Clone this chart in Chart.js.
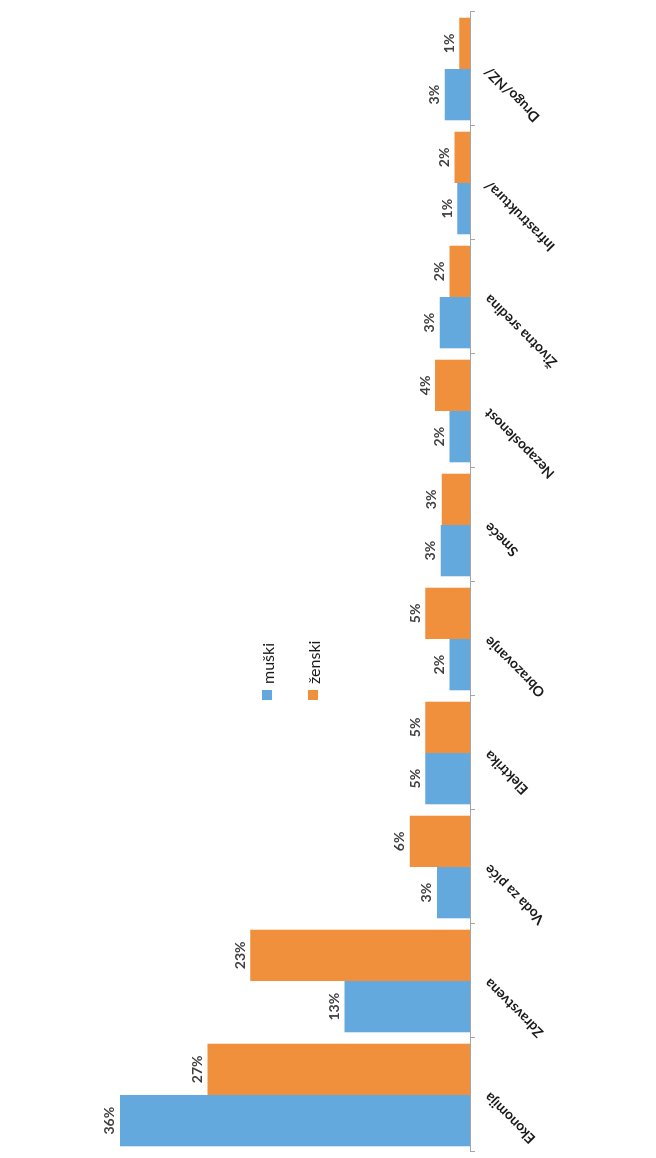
<!DOCTYPE html>
<html>
<head>
<meta charset="utf-8">
<script src="https://cdn.jsdelivr.net/npm/chart.js@4/dist/chart.umd.min.js"></script>
<style>
    html, body { margin: 0; padding: 0; background: #fff; overflow: hidden; }
    /* the original chart is a column chart turned 90° to the left */
    #turned {
        position: absolute; left: 0; top: 1158px;
        width: 1158px; height: 656px;
        transform-origin: 0 0; transform: rotate(-90deg);
    }
    #legend { position: absolute; left: 458px; top: 256px; font: 16px Lato, sans-serif; color: #1a1a1a; }
    #legend div { display: flex; align-items: center; height: 22px; margin-bottom: 24px; }
    #legend span.box { width: 10px; height: 10px; margin-right: 6px; }
</style>
</head>
<body>
<div id="turned">
    <canvas id="chart" width="1158" height="656"></canvas>
    <div id="legend"></div>
</div>
<script>
'use strict';

const categories = ['Ekonomija', 'Zdravstvena', 'Voda za piće', 'Elektrika', 'Obrazovanje',
    'Smeće', 'Nezaposlenost', 'Životna sredina', 'Infrastruktura/', 'Drugo/NZ/'];
const muski  = [36, 12.9, 3.4, 4.6, 2.1, 3.0, 2.1, 3.1, 1.3, 2.6];
const zenski = [27, 22.6, 6.2, 4.6, 4.6, 2.9, 3.6, 2.1, 1.6, 1.1];
const seriesNames = ['muški', 'ženski'];
const seriesColors = ['#63a9dd', '#f0903d'];

// подписи над столбцами
const valueLabels = {
    id: 'valueLabels',
    afterDatasetsDraw(chart) {
        const ctx = chart.ctx;
        ctx.save();
        ctx.font = 'bold 14px Lato, sans-serif';
        ctx.fillStyle = '#404040';
        ctx.textAlign = 'center';
        ctx.textBaseline = 'bottom';
        chart.data.datasets.forEach((ds, i) => {
            chart.getDatasetMeta(i).data.forEach((bar, j) => {
                ctx.fillText(Math.round(ds.data[j]) + '%', bar.x, bar.y - 3);
            });
        });
        ctx.restore();
    }
};

new Chart(document.getElementById('chart').getContext('2d'), {
    type: 'bar',
    data: {
        labels: categories,
        datasets: [
            { label: seriesNames[0], data: muski, backgroundColor: seriesColors[0] },
            { label: seriesNames[1], data: zenski, backgroundColor: seriesColors[1] }
        ]
    },
    options: {
        responsive: false,
        animation: false,
        categoryPercentage: 0.9,
        barPercentage: 1,
        layout: { padding: { left: 6, right: 12, top: 81, bottom: 0 } },
        plugins: { legend: { display: false }, tooltip: { enabled: false } },
        scales: {
            x: {
                afterFit(scale) { scale.height = 186; scale.paddingLeft = 0; scale.paddingRight = 0; },
                border: { display: true, color: '#a6a6a6', width: 1 },
                grid: { drawOnChartArea: false, drawTicks: true, tickLength: 5, color: '#a6a6a6' },
                ticks: {
                    minRotation: 45, maxRotation: 45, padding: 6,
                    color: '#1a1a1a', font: { family: 'Lato', weight: 'bold', size: 14 }
                }
            },
            y: { display: false, min: 0, max: 40 }
        }
    },
    plugins: [valueLabels]
});

const legend = document.getElementById('legend');
seriesNames.forEach((name, i) => {
    const row = document.createElement('div');
    row.innerHTML = `<span class="box" style="background:${seriesColors[i]}"></span>${name}`;
    legend.appendChild(row);
});
</script>
</body>
</html>
